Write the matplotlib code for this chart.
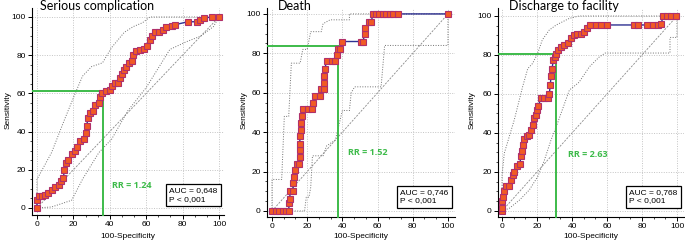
import matplotlib
matplotlib.use("Agg")
import matplotlib.pyplot as plt
from matplotlib.ticker import MultipleLocator

# ---- data ----
titles = ["Serious complication", "Death", "Discharge to facility"]
auc_text = ["AUC = 0,648\nP < 0,001", "AUC = 0,746\nP < 0,001", "AUC = 0,768\nP < 0,001"]
rr_text = ["RR = 1.24", "RR = 1.52", "RR = 2.63"]
cut_x = [36.5, 37.5, 30.9]
cut_y = [61, 83.5, 80.3]

# Serious complication
fpr1 = [0, 0, 1, 2.5, 4.5, 6, 8, 10, 12, 13, 14.5, 15, 16, 17, 19, 21, 22, 23.5, 26, 27, 27.3,
        28, 29, 31, 32, 34, 34.6, 35.5, 38, 40, 41, 43, 44.7, 45.6, 46.5, 48, 49, 50.7, 52, 53,
        54.4, 56.6, 59, 60.6, 62, 63, 65, 67, 69, 71, 74, 76, 83, 88, 89.5, 92, 96, 100]
tpr1 = [0, 4, 6, 6, 7, 8, 9.5, 11, 12, 14, 15.5, 20, 23.5, 25, 28, 30, 32, 35, 36, 39, 43,
        47, 49.5, 51, 54, 55, 58, 60, 61, 62, 64, 65.5, 65.5, 68, 70, 72, 74, 76, 77, 80,
        82, 82.5, 83, 85, 88, 90, 92, 92, 93, 95, 95.5, 96, 97.5, 97.5, 98.5, 99.5, 100, 100]
up1_x = [0, 0, 8, 15, 21, 25, 30, 36, 41, 48, 53, 58, 62, 100]
up1_y = [0, 15, 29, 46, 60, 69, 74, 76, 84, 92, 95, 97, 100, 100]
lo1_x = [0, 8, 19, 25, 34, 41, 50, 60, 73, 82, 90, 97, 100]
lo1_y = [0, 0.5, 4, 15, 29, 36, 51, 63, 83, 87, 90, 95, 100]

# Death
fpr2 = [0, 2, 4, 6, 8, 9.5, 9.7, 10, 10.4, 12, 12, 12.3, 13, 14, 15.3, 15.7, 15.7, 15.7, 16,
        16.3, 16.7, 17, 17.6, 20.5, 23, 23.3, 24.6, 27, 28, 29.4, 29.5, 29.5, 30, 31, 34,
        36, 37, 37.5, 38.5, 40, 50.8, 51.7, 52.7, 53, 55, 56.4, 57.4, 59, 61, 63, 65, 67,
        69, 71.6, 100]
tpr2 = [0, 0, 0, 0, 0, 0, 4, 6, 10, 10, 14, 17, 21, 24, 24, 27.5, 31, 34, 38,
        41, 44.5, 48, 52, 52, 52, 55, 58.5, 58.5, 62, 62, 65, 68.5, 72, 76, 76,
        76, 79, 82, 82, 86, 86, 86, 90, 93, 96, 96, 100, 100, 100, 100, 100, 100,
        100, 100, 100]
up2_x = [0, 0, 5.5, 7, 9.5, 11, 16, 17.5, 20, 22, 28, 29, 33, 44, 44, 100]
up2_y = [0, 16, 16, 48, 48, 75, 75, 82, 82, 91, 91, 95, 97, 97, 100, 100]
lo2_x = [0, 18.5, 19.5, 21, 22, 23, 29, 31, 36, 40, 44, 45, 47, 62, 64, 100, 100]
lo2_y = [0, 0, 7, 7, 12, 28, 28, 33, 36, 51, 51, 60, 63, 63, 84, 84, 100]

# Discharge to facility
fpr3 = [0, 0, 0, 0.8, 1.3, 2.3, 4, 5, 6, 7, 8.4, 10, 11, 11.2, 12, 12.8, 14, 15.6, 16.6,
        17.5, 18.5, 19.4, 20, 20.8, 22.3, 24, 26, 27, 27.6, 28, 28.6, 29.3, 30, 30.9, 31.8,
        33.7, 35.6, 37.5, 39.4, 41.3, 43, 45, 47, 48.4, 50, 53.7, 56.6, 60, 75.6, 77.5, 83,
        86, 89, 91, 92, 94, 96.6, 99.4]
tpr3 = [0, 1.5, 5, 7, 10.5, 13, 13, 16, 18.5, 20, 23, 24, 28, 31, 34, 37, 38.5, 39, 41.5,
        44, 47.5, 49, 52, 54, 58, 58, 58, 60, 64.6, 69, 73, 77.4, 79, 80.5, 82.6,
        84, 85, 86, 88.5, 90, 91, 91, 92, 93.7, 95.4, 95.4, 95.4, 95.4, 95.4, 95.4, 95.4,
        95.4, 95.4, 96, 100, 100, 100, 100]
up3_x = [0, 0, 1.3, 7, 11.8, 14.7, 17.5, 20.4, 23, 27, 31, 38.5, 44, 100]
up3_y = [0, 18, 29.6, 46.7, 63.8, 73, 75.7, 80.9, 87.7, 92.8, 95.4, 98.8, 100, 100]
lo3_x = [0, 4.2, 10, 15.6, 20.4, 24.2, 28, 30.9, 38.5, 44, 50, 55.6, 59, 96, 96, 100, 100]
lo3_y = [0, 1.4, 5.6, 10.8, 17.6, 26, 36.4, 43, 62, 66, 74, 79, 81, 81, 89, 89, 100]

curves = [(fpr1, tpr1), (fpr2, tpr2), (fpr3, tpr3)]
uppers = [(up1_x, up1_y), (up2_x, up2_y), (up3_x, up3_y)]
lowers = [(lo1_x, lo1_y), (lo2_x, lo2_y), (lo3_x, lo3_y)]
rr_pos = [(41, 12), (43, 29.5), (37.5, 29)]

# layout (pixels of a 685x245 figure)
rects = [(32, 215, 192, 207), (267, 217, 188, 209), (498, 217, 186, 209)]
xlims = [(-2.75, 102.75), (-2.84, 104), (-2.29, 104)]
ylims = [(-3.7, 104.7), (-3.05, 103), (-3.08, 104.1)]
title_x = [40, 278, 509]
ylabel_x = [8, 244, 472]

W, H = 685, 245
green = "#3dbb4a"
fig = plt.figure(figsize=(W / 100, H / 100), dpi=100)
tick_font = "Liberation Sans"

for i in range(3):
    l, b, w, h = rects[i]
    ax = fig.add_axes([l / W, (H - b) / H, w / W, h / H])
    ax.set_xlim(*xlims[i])
    ax.set_ylim(*ylims[i])
    for s in ["top", "right"]:
        ax.spines[s].set_visible(False)
    for s in ["left", "bottom"]:
        ax.spines[s].set_linewidth(0.8)
    ax.xaxis.set_major_locator(MultipleLocator(20))
    ax.yaxis.set_major_locator(MultipleLocator(20))
    ax.xaxis.set_minor_locator(MultipleLocator(20 / 3))
    ax.yaxis.set_minor_locator(MultipleLocator(5))
    ax.tick_params(which="major", length=3, width=0.7, labelsize=6, pad=1.5)
    ax.tick_params(which="minor", length=1.5, width=0.5)
    for lab in ax.get_xticklabels() + ax.get_yticklabels():
        lab.set_fontfamily(tick_font)
    ax.grid(True, which="major", color="#c4c4c4", linestyle=(0, (1, 1.5)), linewidth=0.7)
    ax.set_axisbelow(True)

    # diagonal and confidence bands
    ax.plot([0, 100], [0, 100], color="#8a8a8a", linestyle=(0, (2.5, 1.5)), linewidth=0.6)
    ux, uy = uppers[i]
    lx, ly = lowers[i]
    ax.plot(ux, uy, color="#707070", linestyle=(0, (1, 1.6)), linewidth=0.7)
    ax.plot(lx, ly, color="#707070", linestyle=(0, (1, 1.6)), linewidth=0.7)

    # cut-off lines
    ax.plot([xlims[i][0], cut_x[i]], [cut_y[i], cut_y[i]], color=green, linewidth=1.4, zorder=3)
    ax.plot([cut_x[i], cut_x[i]], [cut_y[i], ylims[i][0]], color=green, linewidth=1.4, zorder=3,
            clip_on=False)

    # ROC curve
    fx, ty = curves[i]
    ax.plot(fx, ty, color="#2e3192", linewidth=1.0, marker="s", markersize=4,
            markerfacecolor="#f15a24", markeredgecolor="#b0306a", markeredgewidth=0.8, zorder=4,
            clip_on=False)

    ax.text(rr_pos[i][0], rr_pos[i][1], rr_text[i], color=green, fontsize=6.5,
            fontweight="bold", family="Open Sans", va="center", ha="left")
    ax.text(0.965, 0.06, auc_text[i], transform=ax.transAxes, ha="right", va="bottom",
            fontsize=6, family=tick_font, linespacing=1.25, multialignment="left",
            bbox=dict(boxstyle="square,pad=0.4", facecolor="white", edgecolor="black",
                      linewidth=0.9))

    fig.text(title_x[i] / W, (H - 6) / H, titles[i], fontsize=9, family="Lato",
             ha="left", va="center")
    fig.text(ylabel_x[i] / W, (H - 110) / H, "Sensitivity", rotation=90, fontsize=6,
             family=tick_font, ha="center", va="center")
    fig.text((l + w / 2) / W, (H - 236) / H, "100-Specificity", fontsize=6,
             family=tick_font, ha="center", va="center")

fig.savefig("out.png", dpi=100)
